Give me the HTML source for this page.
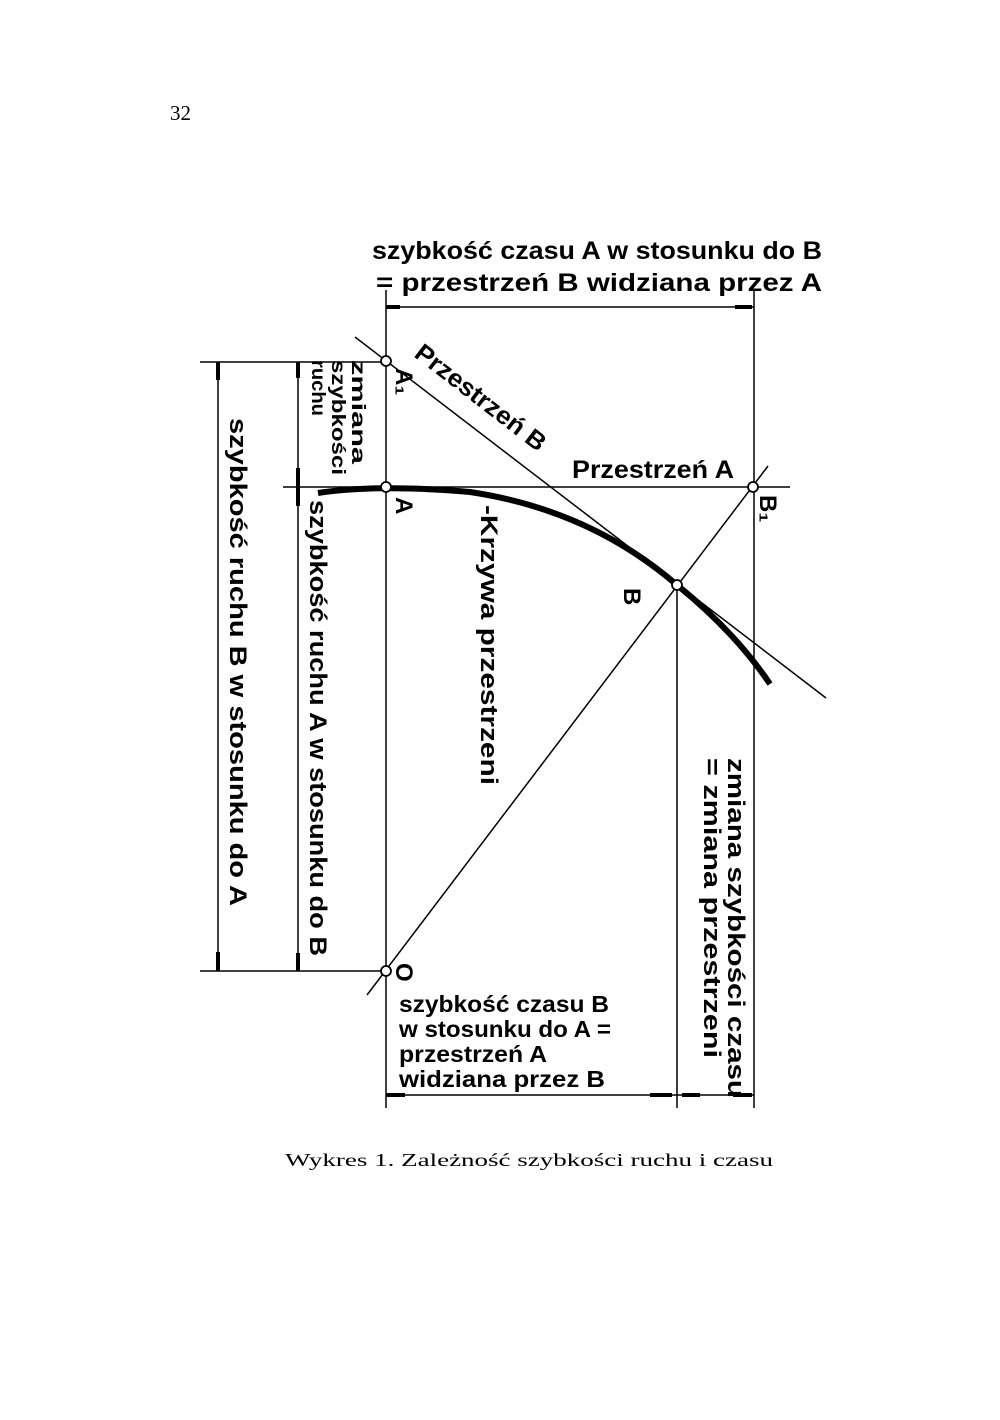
<!DOCTYPE html>
<html><head><meta charset="utf-8"><style>
html,body{margin:0;padding:0;background:#fff;}
svg{display:block;}
.t{font-family:"Liberation Sans",sans-serif;font-weight:bold;fill:#000;}
.s{font-family:"Liberation Serif",serif;fill:#000;}
</style></head><body>
<svg width="1000" height="1420" viewBox="0 0 1000 1420" xmlns="http://www.w3.org/2000/svg">
<text class="s" x="170" y="120" font-size="21">32</text>
<g stroke="#000" fill="none" stroke-width="1.5">
<line x1="386" y1="290" x2="386" y2="1108"/>
<line x1="754" y1="290" x2="754" y2="1108"/>
<line x1="386" y1="307" x2="754" y2="307"/>
<line x1="386" y1="307" x2="400" y2="307" stroke-width="4"/>
<line x1="735" y1="307" x2="752" y2="307" stroke-width="4"/>
<line x1="200" y1="362" x2="386" y2="362"/>
<line x1="200" y1="971" x2="386" y2="971"/>
<line x1="218" y1="362" x2="218" y2="971"/>
<line x1="298" y1="362" x2="298" y2="971"/>
<line x1="218" y1="362" x2="218" y2="380" stroke-width="4"/>
<line x1="218" y1="952" x2="218" y2="971" stroke-width="4"/>
<line x1="298" y1="362" x2="298" y2="378" stroke-width="4"/>
<line x1="298" y1="468" x2="298" y2="506" stroke-width="4"/>
<line x1="298" y1="953" x2="298" y2="971" stroke-width="4"/>
<line x1="283" y1="487" x2="790" y2="487"/>
<line x1="355" y1="337" x2="826" y2="698"/>
<line x1="367" y1="995" x2="768" y2="466"/>
<line x1="677" y1="585" x2="677" y2="1108"/>
<line x1="386" y1="1095" x2="754" y2="1095"/>
<line x1="386" y1="1095" x2="405" y2="1095" stroke-width="4"/>
<line x1="650" y1="1095" x2="672" y2="1095" stroke-width="4"/>
<line x1="682" y1="1095" x2="700" y2="1095" stroke-width="4"/>
<line x1="733" y1="1095" x2="752" y2="1095" stroke-width="4"/>
<path d="M318,493 Q380,484 470,492 Q590,510 677,585 Q735,632 770,684" stroke-width="6"/>
</g>
<g fill="#fff" stroke="#000" stroke-width="1.8">
<circle cx="386" cy="361" r="5"/>
<circle cx="386" cy="487" r="5"/>
<circle cx="753" cy="487" r="5"/>
<circle cx="677" cy="585" r="5"/>
<circle cx="386" cy="971" r="5"/>
</g>
<text class="t" x="372" y="259" font-size="25" textLength="450" lengthAdjust="spacingAndGlyphs">szybkość czasu A w stosunku do B</text>
<text class="t" x="376" y="291" font-size="25" textLength="446" lengthAdjust="spacingAndGlyphs">= przestrzeń B widziana przez A</text>
<text class="t" x="572" y="478" font-size="25" textLength="162" lengthAdjust="spacingAndGlyphs">Przestrzeń A</text>
<text class="t" font-size="25" transform="translate(413,356) rotate(37.6)" textLength="158" lengthAdjust="spacingAndGlyphs">Przestrzeń B</text>
<g class="t" font-size="24">
<text transform="translate(230,418) rotate(90)" textLength="488" lengthAdjust="spacingAndGlyphs">szybkość ruchu B w stosunku do A</text>
<text transform="translate(310,500) rotate(90)" textLength="456" lengthAdjust="spacingAndGlyphs">szybkość ruchu A w stosunku do B</text>
<text transform="translate(481,505) rotate(90)" textLength="280" lengthAdjust="spacingAndGlyphs">-Krzywa przestrzeni</text>
<text transform="translate(728,758) rotate(90)" textLength="340" lengthAdjust="spacingAndGlyphs">zmiana szybkości czasu</text>
<text transform="translate(704,758) rotate(90)" textLength="300" lengthAdjust="spacingAndGlyphs">= zmiana przestrzeni</text>
<text transform="translate(396,368) rotate(90)">A₁</text>
<text transform="translate(396,497) rotate(90)">A</text>
<text transform="translate(624,588) rotate(90)">B</text>
<text transform="translate(760,495) rotate(90)">B₁</text>
<text transform="translate(396,963) rotate(90)">O</text>
</g>
<g class="t" font-size="19">
<text transform="translate(352,360) rotate(90)" textLength="104" lengthAdjust="spacingAndGlyphs">zmiana</text>
<text transform="translate(332,360) rotate(90)" textLength="115" lengthAdjust="spacingAndGlyphs">szybkości</text>
<text transform="translate(312,360) rotate(90)" textLength="56" lengthAdjust="spacingAndGlyphs">ruchu</text>
</g>
<g class="t" font-size="23">
<text x="399" y="1012" textLength="210" lengthAdjust="spacingAndGlyphs">szybkość czasu B</text>
<text x="399" y="1037" textLength="212" lengthAdjust="spacingAndGlyphs">w stosunku do A =</text>
<text x="399" y="1062" textLength="148" lengthAdjust="spacingAndGlyphs">przestrzeń A</text>
<text x="399" y="1087" textLength="206" lengthAdjust="spacingAndGlyphs">widziana przez B</text>
</g>
<text class="s" x="285" y="1166" font-size="18" textLength="488" lengthAdjust="spacingAndGlyphs">Wykres 1.  Zależność szybkości ruchu i czasu</text>
</svg>
</body></html>
